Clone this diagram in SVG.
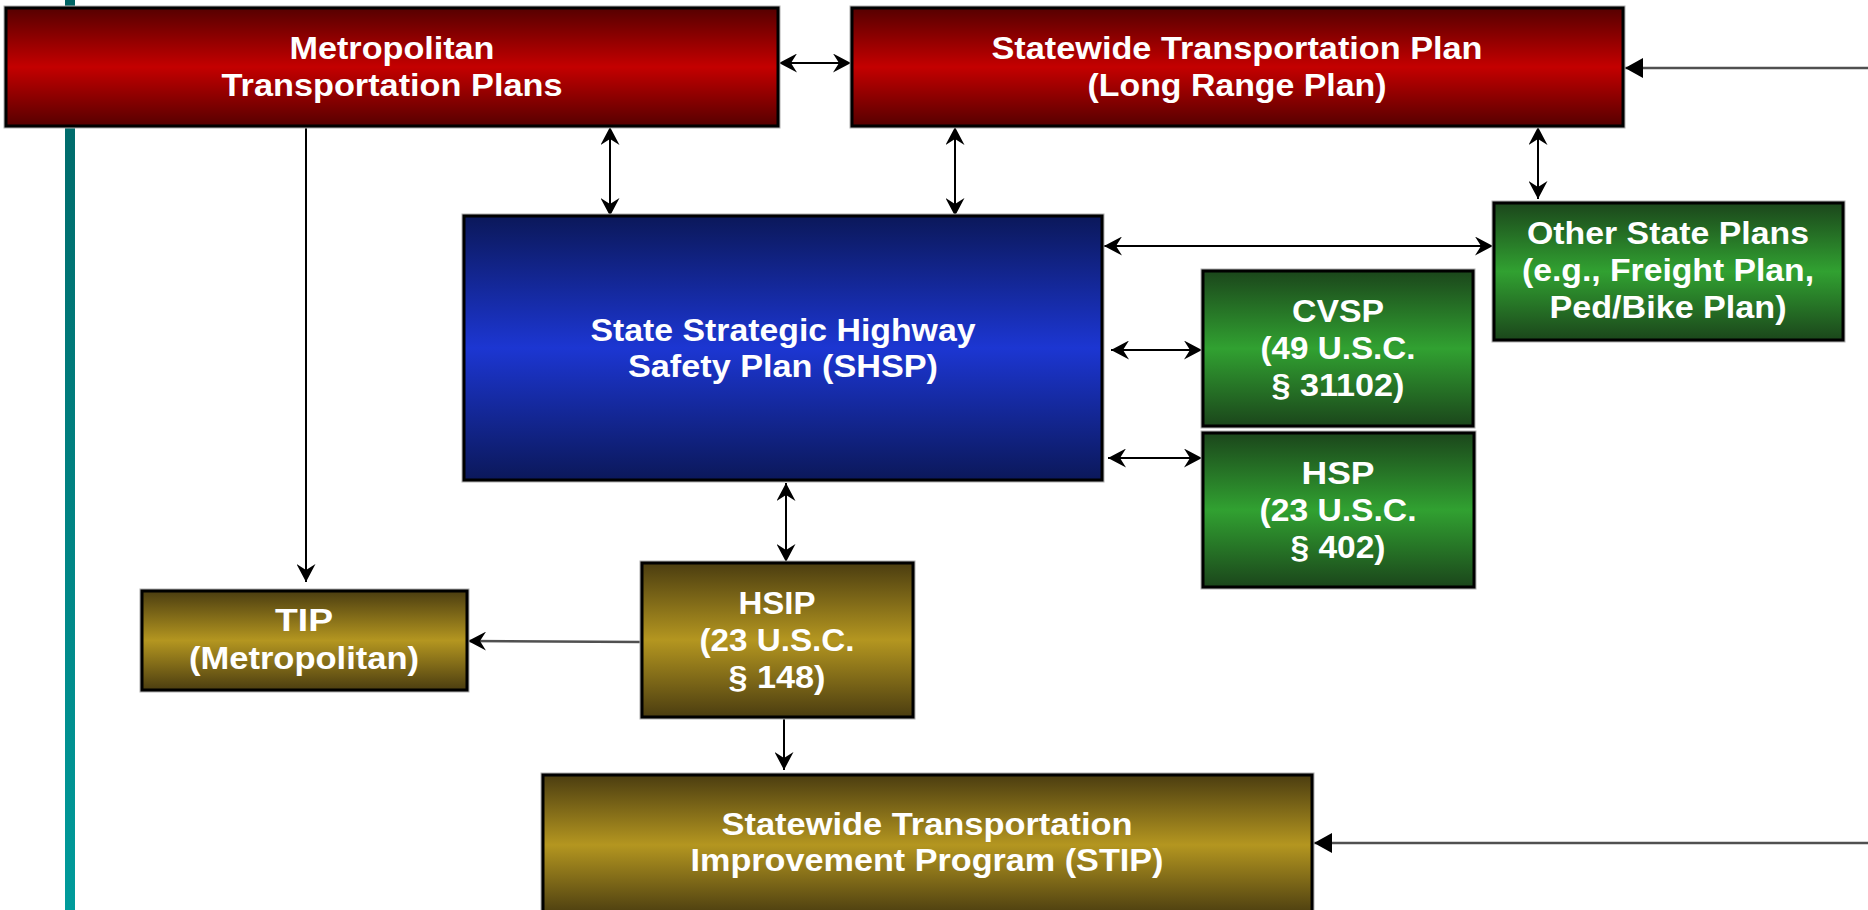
<svg xmlns="http://www.w3.org/2000/svg" width="1868" height="910" viewBox="0 0 1868 910">
<defs>
<linearGradient id="gRed" x1="0" y1="0" x2="0" y2="1">
<stop offset="0" stop-color="#560000"/><stop offset="0.5" stop-color="#c40000"/><stop offset="1" stop-color="#560000"/>
</linearGradient>
<linearGradient id="gBlue" x1="0" y1="0" x2="0" y2="1">
<stop offset="0" stop-color="#0b185a"/><stop offset="0.5" stop-color="#1c36d2"/><stop offset="1" stop-color="#0b185a"/>
</linearGradient>
<linearGradient id="gGreen" x1="0" y1="0" x2="0" y2="1">
<stop offset="0" stop-color="#1b461b"/><stop offset="0.5" stop-color="#31a131"/><stop offset="1" stop-color="#1b461b"/>
</linearGradient>
<linearGradient id="gGold" x1="0" y1="0" x2="0" y2="1">
<stop offset="0" stop-color="#4b3d10"/><stop offset="0.5" stop-color="#b49620"/><stop offset="1" stop-color="#4b3d10"/>
</linearGradient>
<linearGradient id="gTeal" x1="0" y1="0" x2="0" y2="1">
<stop offset="0" stop-color="#006464"/><stop offset="1" stop-color="#009b9b"/>
</linearGradient>
<marker id="stealth" viewBox="0 0 18 19" refX="18" refY="9.5" markerWidth="18" markerHeight="19" markerUnits="userSpaceOnUse" orient="auto-start-reverse">
<path d="M0,0 L18,9.5 L0,19 L6,9.5 Z" fill="#000"/>
</marker>
<marker id="tri" viewBox="0 0 18 20" refX="18" refY="10" markerWidth="18" markerHeight="20" markerUnits="userSpaceOnUse" orient="auto">
<path d="M0,0 L18,10 L0,20 Z" fill="#000"/>
</marker>
</defs>
<style>
.box{stroke:#000;stroke-width:3}
.halo{fill:none;stroke:#b0b0b0;stroke-width:5}
.t{font-family:"Liberation Sans",Arial,sans-serif;font-weight:bold;font-size:31px;fill:#fff;text-anchor:middle}
.c{stroke:#000;stroke-width:2;fill:none}
.g{stroke:#505050;stroke-width:2.5;fill:none}
.dbl{marker-start:url(#stealth);marker-end:url(#stealth)}
.one{marker-end:url(#stealth)}
.trie{marker-end:url(#tri)}
</style>
<rect x="0" y="0" width="1868" height="910" fill="#fff"/>
<rect id="sidebar" x="65" y="0" width="10" height="910" fill="url(#gTeal)"/>

<g id="connectors">
<line class="c dbl" x1="779" y1="63" x2="851" y2="63"/>
<line class="g trie" x1="1868" y1="68" x2="1625" y2="68"/>
<line class="c dbl" x1="610" y1="127" x2="610" y2="216"/>
<line class="c dbl" x1="955" y1="127" x2="955" y2="216"/>
<line class="c dbl" x1="1538" y1="127" x2="1538" y2="199"/>
<line class="c dbl" x1="1104" y1="246" x2="1493" y2="246"/>
<line class="c dbl" x1="1111" y1="350" x2="1202" y2="350"/>
<line class="c dbl" x1="1108" y1="458" x2="1202" y2="458"/>
<line class="c dbl" x1="786" y1="483" x2="786" y2="562"/>
<line class="g one" x1="641" y1="642" x2="468" y2="641"/>
<line class="c one" x1="306" y1="127" x2="306" y2="582"/>
<line class="c one" x1="784" y1="719" x2="784" y2="770"/>
<line class="g trie" x1="1868" y1="843" x2="1314" y2="843"/>
</g>

<g id="metropolitan-plans">
<rect class="halo" x="6" y="8" width="772" height="118"/>
<rect class="box" x="6" y="8" width="772" height="118" fill="url(#gRed)"/>
<text class="t" x="392" y="59" textLength="205" lengthAdjust="spacingAndGlyphs">Metropolitan</text>
<text class="t" x="392" y="96" textLength="341" lengthAdjust="spacingAndGlyphs">Transportation Plans</text>
</g>

<g id="statewide-plan">
<rect class="halo" x="852" y="8" width="771" height="118"/>
<rect class="box" x="852" y="8" width="771" height="118" fill="url(#gRed)"/>
<text class="t" x="1237" y="59" textLength="491" lengthAdjust="spacingAndGlyphs">Statewide Transportation Plan</text>
<text class="t" x="1237" y="96" textLength="299" lengthAdjust="spacingAndGlyphs">(Long Range Plan)</text>
</g>

<g id="shsp">
<rect class="halo" x="464" y="216" width="638" height="264"/>
<rect class="box" x="464" y="216" width="638" height="264" fill="url(#gBlue)"/>
<text class="t" x="783" y="341" textLength="385" lengthAdjust="spacingAndGlyphs">State Strategic Highway</text>
<text class="t" x="783" y="377" textLength="310" lengthAdjust="spacingAndGlyphs">Safety Plan (SHSP)</text>
</g>

<g id="other-state-plans">
<rect class="halo" x="1494" y="203" width="349" height="137"/>
<rect class="box" x="1494" y="203" width="349" height="137" fill="url(#gGreen)"/>
<text class="t" x="1668" y="244" textLength="282" lengthAdjust="spacingAndGlyphs">Other State Plans</text>
<text class="t" x="1668" y="281" textLength="292" lengthAdjust="spacingAndGlyphs">(e.g., Freight Plan,</text>
<text class="t" x="1668" y="318" textLength="237" lengthAdjust="spacingAndGlyphs">Ped/Bike Plan)</text>
</g>

<g id="cvsp">
<rect class="halo" x="1203" y="271" width="270" height="155"/>
<rect class="box" x="1203" y="271" width="270" height="155" fill="url(#gGreen)"/>
<text class="t" x="1338" y="322" textLength="92" lengthAdjust="spacingAndGlyphs">CVSP</text>
<text class="t" x="1338" y="359" textLength="155" lengthAdjust="spacingAndGlyphs">(49 U.S.C.</text>
<text class="t" x="1338" y="396" textLength="133" lengthAdjust="spacingAndGlyphs">§ 31102)</text>
</g>

<g id="hsp">
<rect class="halo" x="1203" y="433" width="271" height="154"/>
<rect class="box" x="1203" y="433" width="271" height="154" fill="url(#gGreen)"/>
<text class="t" x="1338" y="484" textLength="73" lengthAdjust="spacingAndGlyphs">HSP</text>
<text class="t" x="1338" y="521" textLength="157" lengthAdjust="spacingAndGlyphs">(23 U.S.C.</text>
<text class="t" x="1338" y="558" textLength="95" lengthAdjust="spacingAndGlyphs">§ 402)</text>
</g>

<g id="hsip">
<rect class="halo" x="642" y="563" width="271" height="154"/>
<rect class="box" x="642" y="563" width="271" height="154" fill="url(#gGold)"/>
<text class="t" x="777" y="614" textLength="77" lengthAdjust="spacingAndGlyphs">HSIP</text>
<text class="t" x="777" y="651" textLength="155" lengthAdjust="spacingAndGlyphs">(23 U.S.C.</text>
<text class="t" x="777" y="688" textLength="97" lengthAdjust="spacingAndGlyphs">§ 148)</text>
</g>

<g id="tip">
<rect class="halo" x="142" y="591" width="325" height="99"/>
<rect class="box" x="142" y="591" width="325" height="99" fill="url(#gGold)"/>
<text class="t" x="304" y="631" textLength="58" lengthAdjust="spacingAndGlyphs">TIP</text>
<text class="t" x="304" y="669" textLength="230" lengthAdjust="spacingAndGlyphs">(Metropolitan)</text>
</g>

<g id="stip">
<rect class="halo" x="543" y="775" width="769" height="140"/>
<rect class="box" x="543" y="775" width="769" height="140" fill="url(#gGold)"/>
<text class="t" x="927" y="835" textLength="411" lengthAdjust="spacingAndGlyphs">Statewide Transportation</text>
<text class="t" x="927" y="871" textLength="473" lengthAdjust="spacingAndGlyphs">Improvement Program (STIP)</text>
</g>
</svg>
